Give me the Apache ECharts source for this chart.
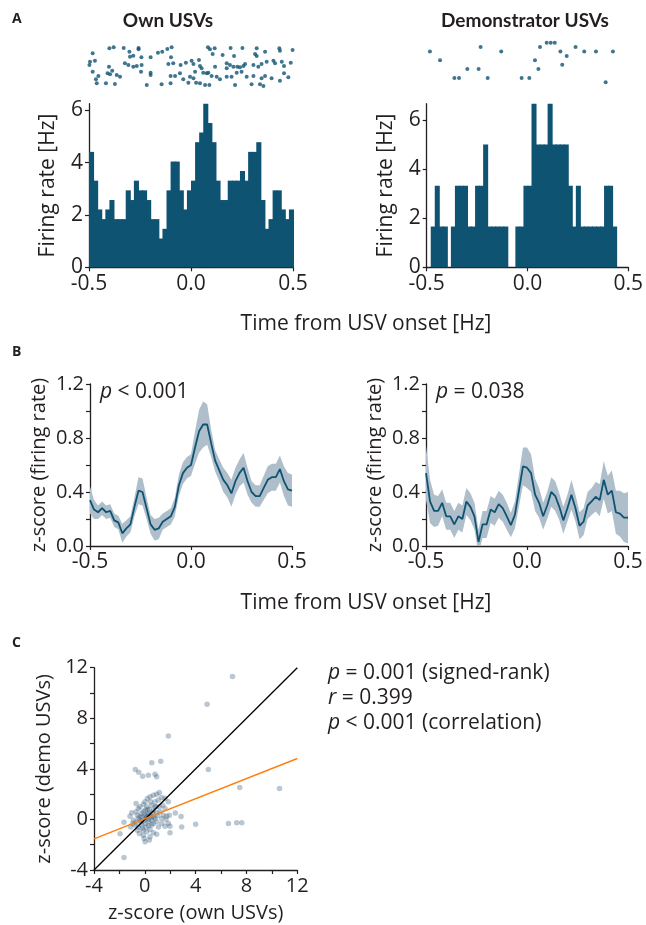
<!DOCTYPE html>
<html>
<head>
<meta charset="utf-8">
<script src="https://cdn.jsdelivr.net/npm/echarts@6/dist/echarts.min.js"></script>
<style>
  html, body { margin: 0; padding: 0; background: #fff; }
  #chart { width: 646px; height: 925px; }
</style>
</head>
<body>
<div id="chart"></div>
<script>
// --- data ---
var binCenters = [-0.49,-0.47,-0.45,-0.43,-0.41,-0.39,-0.37,-0.35,-0.33,-0.31,-0.29,-0.27,-0.25,-0.23,-0.21,-0.19,-0.17,-0.15,-0.13,-0.11,
  -0.09,-0.07,-0.05,-0.03,-0.01,0.01,0.03,0.05,0.07,0.09,0.11,0.13,0.15,0.17,0.19,0.21,0.23,0.25,0.27,0.29,
  0.31,0.33,0.35,0.37,0.39,0.41,0.43,0.45,0.47,0.49];
var binWidth = 0.02;

var ownRate = [4.41,3.31,2.21,1.84,2.21,2.57,1.84,1.84,1.84,2.94,2.57,3.31,2.94,2.94,2.57,1.84,1.84,1.10,1.47,2.94,
  4.04,4.04,2.94,2.21,2.94,3.31,4.78,5.15,6.25,5.51,4.78,3.31,2.57,2.57,3.31,3.31,3.31,3.68,3.31,4.41,
  4.41,4.78,2.57,1.47,1.84,2.94,2.94,2.21,1.84,2.21];
var demoRate = [0,1.66,3.32,1.66,1.66,0,1.66,3.32,3.32,3.32,1.66,1.66,3.32,3.32,5.0,1.66,1.66,1.66,1.66,1.66,
  0,0,1.66,1.66,3.32,3.32,6.66,5.0,5.0,5.0,6.66,5.0,5.0,5.0,5.0,3.32,1.66,3.32,1.66,1.66,
  1.66,1.66,1.66,1.66,3.32,3.32,1.66,0,0,0];

// raster: [spike time (s), trial]
var ownSpikes = [[-0.482,100],[-0.495,75],[-0.471,78],[-0.498,65],[-0.482,45],[-0.454,32],[-0.466,22],[-0.462,10],
  [-0.400,115],[-0.379,118],[-0.402,60],[-0.386,48],[-0.409,40],[-0.397,37],[-0.364,35],[-0.348,30],[-0.417,10],[-0.373,8],
  [-0.330,116],[-0.302,105],[-0.257,116],[-0.257,112],[-0.283,93],[-0.299,90],[-0.243,88],[-0.198,88],[-0.324,70],[-0.307,65],
  [-0.283,60],[-0.266,62],[-0.242,65],[-0.245,45],[-0.198,42],[-0.198,35],[-0.217,5],[-0.162,102],[-0.141,105],[-0.116,113],
  [-0.095,118],[-0.098,88],[-0.111,68],[-0.087,70],[-0.051,65],[-0.100,32],[-0.078,32],[-0.054,40],[-0.144,7],[-0.100,10],
  [-0.025,72],[0.003,78],[0.012,68],[0.039,80],[0.044,62],[0.052,55],[0.020,45],[0.060,42],[0.077,40],[0.085,42],
  [-0.005,30],[0.012,25],[-0.038,22],[-0.013,12],[0.025,12],[0.044,10],[0.069,5],[0.090,5],[0.083,118],[0.093,112],
  [0.116,115],[0.106,98],[0.118,60],[0.101,32],[0.126,30],[0.194,116],[0.252,116],[0.155,95],[0.211,92],[0.175,70],
  [0.191,65],[0.208,60],[0.227,60],[0.240,58],[0.257,62],[0.265,68],[0.175,55],[0.224,42],[0.248,45],[0.199,30],
  [0.273,30],[0.142,22],[0.175,30],[0.216,5],[0.322,115],[0.314,98],[0.322,92],[0.363,105],[0.306,65],[0.330,60],
  [0.346,68],[0.371,75],[0.404,78],[0.412,70],[0.306,32],[0.346,25],[0.363,32],[0.395,25],[0.297,7],[0.338,7],
  [0.355,2],[0.433,115],[0.436,108],[0.498,110],[0.445,75],[0.436,18],[0.456,40],[0.477,28],[0.489,72],[0.456,62]];
var demoSpikes = [[-0.484,7],[-0.434,5],[-0.363,1],[-0.340,1],[-0.299,3],[-0.243,3],[-0.233,8],[-0.198,1],[-0.131,7],
  [-0.030,1],[0.008,1],[0.036,5],[0.053,3],[0.061,8],[0.094,9],[0.114,9],[0.134,9],[0.162,7],[0.171,4],[0.193,6],
  [0.237,8],[0.280,7],[0.338,7],[0.386,0],[0.422,7]];

var zTimes = [-0.5,-0.48,-0.46,-0.44,-0.42,-0.4,-0.38,-0.36,-0.34,-0.32,-0.3,-0.28,-0.26,-0.24,-0.22,-0.2,-0.18,-0.16,-0.14,-0.12,
  -0.1,-0.08,-0.06,-0.04,-0.02,0,0.02,0.04,0.06,0.08,0.1,0.12,0.14,0.16,0.18,0.2,0.22,0.24,0.26,0.28,
  0.3,0.32,0.34,0.36,0.38,0.4,0.42,0.44,0.46,0.48,0.5];
var ownZ = [0.34,0.27,0.25,0.28,0.25,0.26,0.19,0.175,0.094,0.13,0.16,0.29,0.41,0.40,0.28,0.16,0.12,0.13,0.18,0.20,
  0.22,0.29,0.45,0.54,0.58,0.60,0.73,0.85,0.90,0.90,0.76,0.63,0.56,0.49,0.45,0.39,0.48,0.54,0.58,0.48,
  0.40,0.37,0.37,0.43,0.49,0.51,0.51,0.57,0.48,0.42,0.41];
var ownSem = [0.10,0.07,0.05,0.05,0.05,0.05,0.05,0.05,0.07,0.06,0.06,0.07,0.10,0.10,0.08,0.07,0.08,0.08,0.06,0.06,
  0.06,0.07,0.08,0.08,0.08,0.08,0.12,0.16,0.17,0.15,0.10,0.08,0.08,0.09,0.09,0.10,0.10,0.10,0.11,0.10,
  0.08,0.08,0.08,0.09,0.10,0.10,0.10,0.10,0.11,0.12,0.12];
var demoZ = [0.54,0.33,0.26,0.26,0.32,0.22,0.22,0.16,0.22,0.20,0.33,0.29,0.22,0.03,0.16,0.16,0.27,0.25,0.31,0.28,
  0.22,0.155,0.23,0.41,0.59,0.58,0.54,0.38,0.32,0.22,0.30,0.40,0.37,0.29,0.19,0.28,0.38,0.28,0.15,0.18,
  0.30,0.33,0.365,0.34,0.49,0.38,0.41,0.25,0.24,0.21,0.21];
var demoSem = [0.20,0.16,0.12,0.11,0.1,0.1,0.1,0.1,0.1,0.1,0.1,0.1,0.1,0.09,0.1,0.1,0.1,0.1,0.1,0.1,
  0.1,0.09,0.1,0.12,0.14,0.15,0.14,0.12,0.11,0.1,0.1,0.11,0.11,0.1,0.1,0.1,0.11,0.1,0.1,0.1,
  0.1,0.1,0.11,0.12,0.14,0.14,0.15,0.16,0.17,0.18,0.19];

// C: [z own, z demo] per neuron
var zPairs = [[6.9,11.3],[4.9,9.1],[1.85,6.6],[5.0,3.95],[1.25,4.6],[0.55,4.48],[-0.75,3.95],[-0.48,3.74],[-0.17,3.42],
  [0.28,3.5],[0.8,3.58],[0.93,3.37],[7.47,2.53],[10.6,2.45],[-1.64,-3.01],[-1.95,-1.14],[-1.64,-0.22],[4.0,-0.38],
  [6.58,-0.32],[7.23,-0.27],[7.63,-0.27],[2.85,0.24],[2.9,-0.59],[2.4,0.5],[1.98,-1.06],[1.98,-0.53],[-1.17,0.26],
  [0.02,-1.77],[0.36,-1.63],
  [-0.69,0.60],[-0.51,0.87],[-0.59,0.34],[-0.38,0.21],[-0.25,0.47],[-0.12,0.60],[0.02,0.73],[0.15,1.00],[0.02,1.39],
  [0.20,1.66],[0.41,1.79],[0.67,1.92],[0.93,2.0],[1.14,2.13],[1.33,1.74],[1.07,1.53],[0.80,1.39],[0.54,1.13],[0.36,0.79],
  [0.67,0.68],[0.93,0.52],[1.20,0.60],[1.46,0.34],[1.72,0.26],[1.93,0.34],[1.59,0.87],[1.41,1.13],[1.14,1.00],[0.80,0.07],
  [0.54,-0.06],[0.28,-0.19],[0.02,-0.32],[-0.25,-0.45],[-0.51,-0.59],[-0.77,-0.45],[-0.96,-0.32],[-0.12,-0.85],[0.15,-0.98],
  [0.41,-0.80],[0.67,-1.06],[0.93,-1.17],[0.41,-1.38],[-0.12,-1.25],[-0.43,-1.11],[1.07,-0.59],[1.33,-0.32],[1.59,-0.53],
  [1.85,-0.32],[1.67,-0.01],[0.67,-0.32],[0.93,-0.19],[1.33,0.07],[-0.38,-0.06],[-0.90,-0.06],[-1.11,-0.59],[0.15,0.21],
  [0.41,0.34],[-1.03,0.52],[1.85,1.39],[1.59,1.66],[-0.12,1.21],[-0.38,1.00],[-0.69,1.26],[0.80,1.00],[0.28,0.47],
  [0.54,-0.45],[-0.59,-0.85],[0.1,0.1],[-0.2,0.2],[0.3,0.0],[-0.1,-0.1],[0.2,0.4],[0.0,0.3],[-0.3,-0.2],[0.5,0.2],
  [0.3,-0.5],[-0.5,0.1],[0.6,0.5],[0.1,-0.6],[-0.2,-0.7],[0.7,0.2],[1.0,0.3],[-0.7,-0.2],[0.2,0.8],[0.45,1.4],
  [0.9,1.0],[-0.05,-1.5]];
var unityLine = [[-4,-4],[12,12]];
var fitLine = [[-4,-1.54],[12,4.82]];

var timeTicks = [-0.5, 0, 0.5];
var rateTicks = [0, 2, 4, 6];
var zTickLabels = [0, 0.4, 0.8, 1.2];
var zTickMarks = [0, 0.2, 0.4, 0.6, 0.8, 1.0, 1.2];
var cTickLabels = [-4, 0, 4, 8, 12];
var cTickMarks = [-4, -2, 0, 2, 4, 6, 8, 10, 12];

// --- styling ---
var FONT = '"Open Sans", sans-serif';
var INK = '#231f20';
var BLUE = '#0f5372';
var BAND = '#aebfcb';

var myChart = echarts.init(document.getElementById('chart'));

function axisBase(extra, size) {
  var a = {
    axisLine: { show: true, onZero: false, lineStyle: { color: INK, width: 1.3 } },
    axisTick: { show: true, length: 4, lineStyle: { color: INK, width: 1.2 } },
    axisLabel: { color: INK, fontSize: size, fontFamily: FONT, margin: 6 },
    splitLine: { show: false },
    nameTextStyle: { color: INK, fontSize: size, fontFamily: FONT }
  };
  for (var k in extra) {
    if (typeof extra[k] === 'object' && a[k] && !Array.isArray(extra[k])) {
      for (var j in extra[k]) a[k][j] = extra[k][j];
    } else a[k] = extra[k];
  }
  return a;
}

function timeAxis(gi, size) {
  return axisBase({
    type: 'value', gridIndex: gi, min: -0.5, max: 0.5,
    axisTick: { customValues: timeTicks },
    axisLabel: { customValues: timeTicks, formatter: function (v) { return v.toFixed(1); } }
  }, size);
}

function hiddenAxis(gi, min, max) {
  return { type: 'value', gridIndex: gi, min: min, max: max, show: false };
}

function histSeries(idx, values) {
  return {
    type: 'custom', xAxisIndex: idx, yAxisIndex: idx, silent: true,
    data: binCenters.map(function (c, i) { return [c, values[i]]; }),
    renderItem: function (params, api) {
      var c = api.value(0), v = api.value(1);
      if (!v) return;
      var p0 = api.coord([c - binWidth / 2, 0]);
      var p1 = api.coord([c + binWidth / 2, v]);
      return {
        type: 'rect',
        shape: { x: p0[0], y: p1[1], width: p1[0] - p0[0] + 1, height: p0[1] - p1[1] },
        style: { fill: BLUE }
      };
    }
  };
}

function bandSeries(idx, mean, sem) {
  return {
    type: 'custom', xAxisIndex: idx, yAxisIndex: idx, silent: true, clip: true,
    data: [0],
    renderItem: function (params, api) {
      var pts = [];
      for (var i = 0; i < zTimes.length; i++) pts.push(api.coord([zTimes[i], mean[i] + sem[i]]));
      for (var j = zTimes.length - 1; j >= 0; j--) pts.push(api.coord([zTimes[j], mean[j] - sem[j]]));
      return { type: 'polygon', shape: { points: pts }, style: { fill: BAND } };
    }
  };
}

function meanSeries(idx, mean) {
  return {
    type: 'line', xAxisIndex: idx, yAxisIndex: idx, showSymbol: false, silent: true,
    data: zTimes.map(function (t, i) { return [t, mean[i]]; }),
    lineStyle: { color: BLUE, width: 1.8 }
  };
}

function label(x, y, text, size, weight, align, family) {
  return {
    type: 'text', x: x, y: y,
    style: { text: text, fontSize: size, fontWeight: weight || 'normal', fontFamily: family || FONT, fill: INK,
             align: align || 'left', verticalAlign: 'middle' }
  };
}

function richLabel(x, y, text, size) {
  return {
    type: 'text', x: x, y: y,
    style: { text: text, fontSize: size, fontFamily: FONT, fill: INK, align: 'left', verticalAlign: 'middle',
             rich: { i: { fontStyle: 'italic', fontSize: size, fontFamily: FONT, fill: INK } } }
  };
}

var rateMaxOwn = Math.max.apply(null, ownRate);
var rateMaxDemo = Math.max.apply(null, demoRate);

var option = {
  animation: false,
  grid: [
    { left: 89, top: 46.7, width: 204, height: 40 },      // 0 raster own
    { left: 426.7, top: 42.7, width: 202, height: 39.6 }, // 1 raster demo
    { left: 89, top: 103.7, width: 204, height: 163.6 },  // 2 hist own
    { left: 426.7, top: 103.7, width: 202, height: 163.6 },// 3 hist demo
    { left: 90, top: 384, width: 202, height: 162 },      // 4 z own
    { left: 426, top: 384, width: 202, height: 162 },     // 5 z demo
    { left: 94, top: 667.7, width: 203.3, height: 202.3 } // 6 scatter
  ],
  xAxis: [
    hiddenAxis(0, -0.5, 0.5),
    hiddenAxis(1, -0.5, 0.5),
    timeAxis(2, 21), timeAxis(3, 21), timeAxis(4, 21), timeAxis(5, 21),
    axisBase({
      type: 'value', gridIndex: 6, min: -4, max: 12,
      axisTick: { customValues: cTickMarks },
      axisLabel: { customValues: cTickLabels },
      name: 'z-score (own USVs)', nameLocation: 'middle', nameGap: 33
    }, 20)
  ],
  yAxis: [
    hiddenAxis(0, 0, 120),
    hiddenAxis(1, 0, 9),
    axisBase({ type: 'value', gridIndex: 2, min: 0, max: rateMaxOwn,
      axisTick: { customValues: rateTicks }, axisLabel: { customValues: rateTicks },
      name: 'Firing rate [Hz]', nameLocation: 'middle', nameGap: 30 }, 21),
    axisBase({ type: 'value', gridIndex: 3, min: 0, max: rateMaxDemo,
      axisTick: { customValues: rateTicks }, axisLabel: { customValues: rateTicks },
      name: 'Firing rate [Hz]', nameLocation: 'middle', nameGap: 30 }, 21),
    axisBase({ type: 'value', gridIndex: 4, min: 0, max: 1.2,
      axisTick: { customValues: zTickMarks },
      axisLabel: { customValues: zTickLabels, formatter: function (v) { return v.toFixed(1); } },
      name: 'z-score (firing rate)', nameLocation: 'middle', nameGap: 41 }, 20),
    axisBase({ type: 'value', gridIndex: 5, min: 0, max: 1.2,
      axisTick: { customValues: zTickMarks },
      axisLabel: { customValues: zTickLabels, formatter: function (v) { return v.toFixed(1); } },
      name: 'z-score (firing rate)', nameLocation: 'middle', nameGap: 41 }, 20),
    axisBase({ type: 'value', gridIndex: 6, min: -4, max: 12,
      axisTick: { customValues: cTickMarks }, axisLabel: { customValues: cTickLabels },
      name: 'z-score (demo USVs)', nameLocation: 'middle', nameGap: 40 }, 20)
  ],
  series: [
    { type: 'scatter', xAxisIndex: 0, yAxisIndex: 0, data: ownSpikes, symbolSize: 4, itemStyle: { color: BLUE }, silent: true },
    { type: 'scatter', xAxisIndex: 1, yAxisIndex: 1, data: demoSpikes, symbolSize: 4, itemStyle: { color: BLUE }, silent: true },
    histSeries(2, ownRate),
    histSeries(3, demoRate),
    bandSeries(4, ownZ, ownSem), meanSeries(4, ownZ),
    bandSeries(5, demoZ, demoSem), meanSeries(5, demoZ),
    { type: 'scatter', xAxisIndex: 6, yAxisIndex: 6, data: zPairs, symbolSize: 5.5, silent: true,
      itemStyle: { color: 'rgba(40,80,115,0.4)' } },
    { type: 'line', xAxisIndex: 6, yAxisIndex: 6, data: unityLine, showSymbol: false, silent: true,
      lineStyle: { color: '#000', width: 1.3 } },
    { type: 'line', xAxisIndex: 6, yAxisIndex: 6, data: fitLine, showSymbol: false, silent: true,
      lineStyle: { color: '#ff7f0e', width: 1.4 } }
  ],
  graphic: [
    label(12, 19, 'A', 14, 'bold'),
    label(12, 352, 'B', 14, 'bold'),
    label(12, 643, 'C', 14, 'bold'),
    label(168, 21, 'Own USVs', 19, 'bold', 'center', 'Lato'),
    label(525, 21, 'Demonstrator USVs', 19, 'bold', 'center', 'Lato'),
    label(366, 324, 'Time from USV onset [Hz]', 21, 'normal', 'center'),
    label(366, 603, 'Time from USV onset [Hz]', 21, 'normal', 'center'),
    richLabel(100, 392, '{i|p} < 0.001', 21),
    richLabel(436, 392, '{i|p} = 0.038', 21),
    richLabel(328, 673, '{i|p} = 0.001 (signed-rank)', 21),
    richLabel(328, 698, '{i|r} = 0.399', 21),
    richLabel(328, 723, '{i|p} < 0.001 (correlation)', 21)
  ]
};

myChart.setOption(option);
window.onresize = myChart.resize;
</script>
</body>
</html>
